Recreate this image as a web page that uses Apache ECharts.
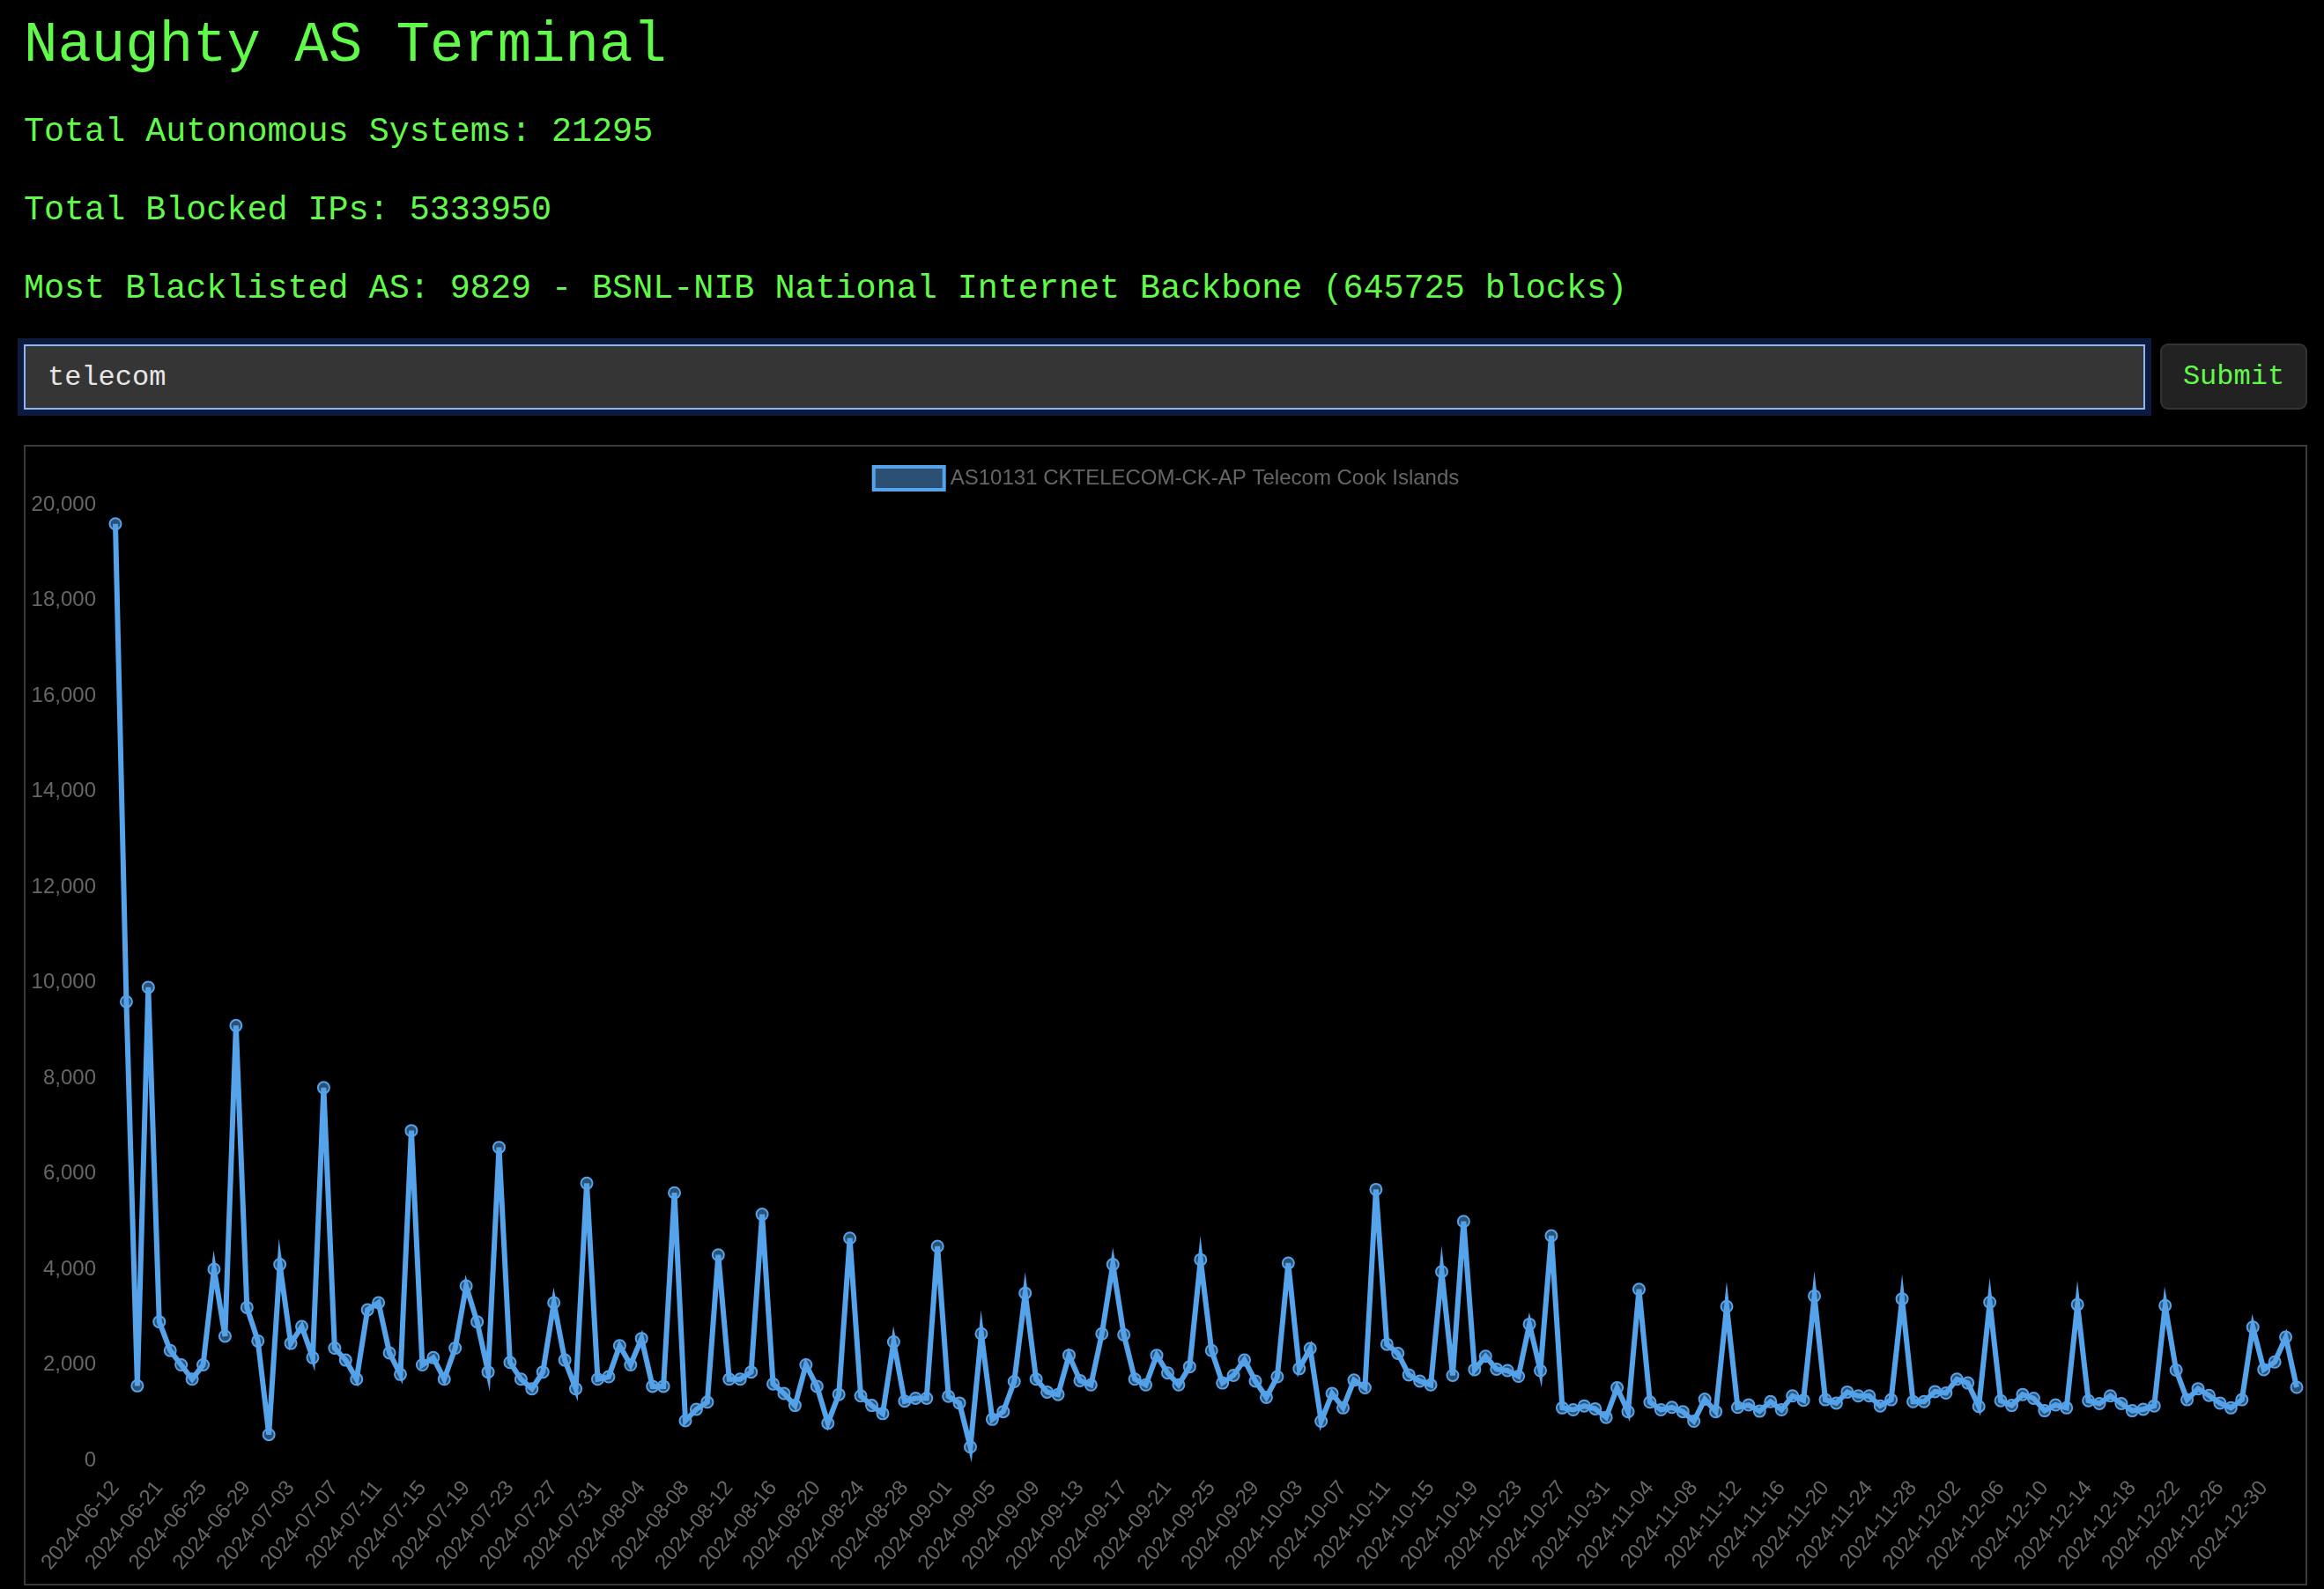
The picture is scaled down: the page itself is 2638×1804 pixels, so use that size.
<!DOCTYPE html>
<html>
<head>
<meta charset="utf-8">
<script src="https://cdn.jsdelivr.net/npm/echarts@6/dist/echarts.min.js"></script>
<style>
html,body{margin:0;padding:0;background:#000;width:2638px;height:1804px;overflow:hidden;}
.mono{font-family:'Liberation Mono','Courier New',monospace;color:rgb(98,250,74);position:absolute;left:27px;white-space:nowrap;}
#title{font-size:64px;line-height:64px;top:20px;}
.stat{font-size:38.4px;line-height:38.4px;}
#inp{position:absolute;left:27px;top:391px;width:2408px;height:74px;box-sizing:border-box;border:2px solid #8db4f5;background:#353535;box-shadow:0 0 0 7px #0c1a3d;}
#inptxt{position:absolute;left:54px;top:413px;font-family:'Liberation Mono',monospace;font-size:32px;line-height:32px;color:#e6e6e6;}
#btn{position:absolute;left:2452px;top:390px;width:167px;height:75px;box-sizing:border-box;background:#222;border:2px solid #333;border-radius:9px;font-family:'Liberation Mono',monospace;font-size:32px;line-height:71px;text-align:center;color:rgb(98,250,74);}
#box{position:absolute;left:27px;top:505px;width:2592px;height:1295px;box-sizing:border-box;border:2px solid #3a3a3a;}
#chart{width:2588px;height:1291px;}
</style>
</head>
<body>
<div id="title" class="mono">Naughty AS Terminal</div>
<div class="mono stat" style="top:131px">Total Autonomous Systems: 21295</div>
<div class="mono stat" style="top:220px">Total Blocked IPs: 5333950</div>
<div class="mono stat" style="top:309px">Most Blacklisted AS: 9829 - BSNL-NIB National Internet Backbone (645725 blocks)</div>
<div id="inp"></div>
<div id="inptxt">telecom</div>
<div id="btn">Submit</div>
<div id="box"><div id="chart"></div></div>
<script>
const seriesName = 'AS10131 CKTELECOM-CK-AP Telecom Cook Islands';
const dates = [
'2024-06-12','2024-06-18','2024-06-19','2024-06-20','2024-06-21','2024-06-22','2024-06-23','2024-06-24','2024-06-25','2024-06-26','2024-06-27','2024-06-28','2024-06-29','2024-06-30',
'2024-07-01','2024-07-02','2024-07-03','2024-07-04','2024-07-05','2024-07-06','2024-07-07','2024-07-08','2024-07-09','2024-07-10','2024-07-11','2024-07-12','2024-07-13','2024-07-14','2024-07-15','2024-07-16','2024-07-17','2024-07-18','2024-07-19','2024-07-20','2024-07-21','2024-07-22','2024-07-23','2024-07-24','2024-07-25','2024-07-26','2024-07-27','2024-07-28','2024-07-29','2024-07-30','2024-07-31',
'2024-08-01','2024-08-02','2024-08-03','2024-08-04','2024-08-05','2024-08-06','2024-08-07','2024-08-08','2024-08-09','2024-08-10','2024-08-11','2024-08-12','2024-08-13','2024-08-14','2024-08-15','2024-08-16','2024-08-17','2024-08-18','2024-08-19','2024-08-20','2024-08-21','2024-08-22','2024-08-23','2024-08-24','2024-08-25','2024-08-26','2024-08-27','2024-08-28','2024-08-29','2024-08-30','2024-08-31',
'2024-09-01','2024-09-02','2024-09-03','2024-09-04','2024-09-05','2024-09-06','2024-09-07','2024-09-08','2024-09-09','2024-09-10','2024-09-11','2024-09-12','2024-09-13','2024-09-14','2024-09-15','2024-09-16','2024-09-17','2024-09-18','2024-09-19','2024-09-20','2024-09-21','2024-09-22','2024-09-23','2024-09-24','2024-09-25','2024-09-26','2024-09-27','2024-09-28','2024-09-29','2024-09-30',
'2024-10-01','2024-10-02','2024-10-03','2024-10-04','2024-10-05','2024-10-06','2024-10-07','2024-10-08','2024-10-09','2024-10-10','2024-10-11','2024-10-12','2024-10-13','2024-10-14','2024-10-15','2024-10-16','2024-10-17','2024-10-18','2024-10-19','2024-10-20','2024-10-21','2024-10-22','2024-10-23','2024-10-24','2024-10-25','2024-10-26','2024-10-27','2024-10-28','2024-10-29','2024-10-30','2024-10-31',
'2024-11-01','2024-11-02','2024-11-03','2024-11-04','2024-11-05','2024-11-06','2024-11-07','2024-11-08','2024-11-09','2024-11-10','2024-11-11','2024-11-12','2024-11-13','2024-11-14','2024-11-15','2024-11-16','2024-11-17','2024-11-18','2024-11-19','2024-11-20','2024-11-21','2024-11-22','2024-11-23','2024-11-24','2024-11-25','2024-11-26','2024-11-27','2024-11-28','2024-11-29','2024-11-30',
'2024-12-01','2024-12-02','2024-12-03','2024-12-04','2024-12-05','2024-12-06','2024-12-07','2024-12-08','2024-12-09','2024-12-10','2024-12-11','2024-12-12','2024-12-13','2024-12-14','2024-12-15','2024-12-16','2024-12-17','2024-12-18','2024-12-19','2024-12-20','2024-12-21','2024-12-22','2024-12-23','2024-12-24','2024-12-25','2024-12-26','2024-12-27','2024-12-28','2024-12-29','2024-12-30','2024-12-31',
'2025-01-01','2025-01-02'
];
const blocks = [
19600,9600,1560,9900,2900,2300,2000,1700,2000,4000,
2600,9100,3200,2500,540,4100,2450,2800,2150,7800,
2350,2100,1700,3150,3300,2250,1800,6900,2000,2150,
1700,2350,3650,2900,1850,6550,2050,1700,1500,1850,
3300,2100,1500,5800,1700,1750,2400,2000,2550,1550,
1550,5600,830,1070,1220,4300,1700,1700,1850,5150,
1600,1400,1150,2000,1550,780,1380,4650,1350,1150,
980,2480,1240,1300,1300,4480,1340,1200,280,2650,
860,1020,1650,3500,1700,1430,1380,2200,1670,1580,
2650,4100,2630,1700,1580,2200,1830,1580,1960,4200,
2300,1620,1780,2100,1660,1320,1750,4130,1920,2340,
820,1400,1100,1680,1520,5670,2430,2240,1790,1660,
1580,3950,1780,5000,1900,2180,1910,1880,1760,2850,
1880,4700,1100,1060,1140,1080,900,1520,1020,3580,
1220,1060,1110,1020,820,1280,1020,3220,1110,1160,
1030,1230,1060,1350,1260,3440,1270,1200,1430,1350,
1350,1140,1270,3380,1230,1230,1440,1410,1700,1620,
1130,3310,1250,1150,1380,1300,1040,1160,1100,3260,
1250,1190,1350,1190,1040,1070,1140,3240,1890,1270,
1500,1360,1200,1100,1270,2790,1900,2060,2580,1530
];
const yTicks = {min: 0, max: 20000, interval: 2000};

const chart = echarts.init(document.getElementById('chart'), null, {renderer: 'canvas'});
const lineColor = '#54a3eb';
const fontFam = "'Liberation Sans', Helvetica, Arial, sans-serif";
chart.setOption({
  animation: false,
  backgroundColor: 'transparent',
  legend: {
    data: [seriesName],
    top: 16,
    left: 'center',
    icon: 'rect',
    itemWidth: 80,
    itemHeight: 26,
    itemGap: 20,
    itemStyle: {color: 'rgba(85,160,230,0.5)', borderColor: lineColor, borderWidth: 4},
    textStyle: {color: '#666', fontSize: 24, fontFamily: fontFam, padding: [0,0,0,2]}
  },
  grid: {left: 102, right: 10, top: 66, bottom: 140, containLabel: false},
  xAxis: {
    type: 'category',
    data: dates,
    boundaryGap: false,
    axisLine: {show: false},
    axisTick: {show: false},
    splitLine: {show: false},
    axisLabel: {interval: 3, rotate: 50, color: '#666', fontSize: 24, fontFamily: fontFam, margin: 27}
  },
  yAxis: {
    type: 'value',
    min: yTicks.min, max: yTicks.max, interval: yTicks.interval,
    axisLine: {show: false},
    axisTick: {show: false},
    splitLine: {show: false},
    axisLabel: {color: '#666', fontSize: 24, fontFamily: fontFam, margin: 22,
      formatter: v => v.toLocaleString('en-US')}
  },
  series: [{
    name: seriesName,
    type: 'line',
    data: blocks,
    showSymbol: true,
    showAllSymbol: true,
    symbol: 'circle',
    symbolSize: 13,
    lineStyle: {color: lineColor, width: 6, join: 'miter', miterLimit: 10},
    itemStyle: {color: 'rgba(85,160,230,0.5)', borderColor: lineColor, borderWidth: 2},
    emphasis: {disabled: true}
  }]
});
</script>
</body>
</html>
